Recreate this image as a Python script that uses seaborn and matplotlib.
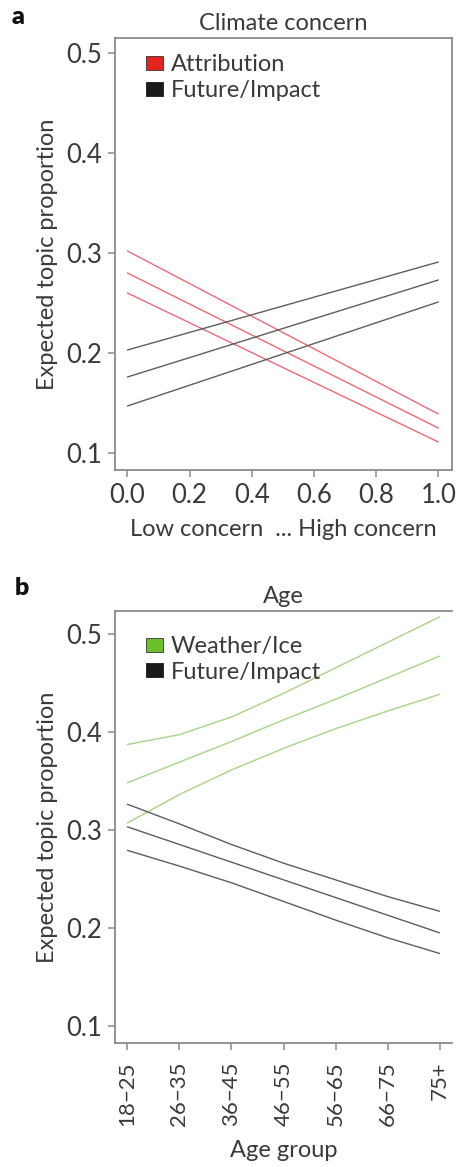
import numpy as np
import pandas as pd
import matplotlib
matplotlib.use("Agg")
import matplotlib.pyplot as plt
import matplotlib.patches as mpatches
import seaborn as sns

# ---------------- data ----------------
# Panel a: climate concern (0..1)
concern_x = [0.0, 1.0]
attr_upper = [0.302, 0.139]
attr_mid = [0.280, 0.125]
attr_lower = [0.260, 0.111]
fut_a_upper = [0.203, 0.291]
fut_a_mid = [0.176, 0.273]
fut_a_lower = [0.147, 0.251]

# Panel b: age group
age_groups = ["18\u221225", "26\u221235", "36\u221245", "46\u221255", "56\u221265", "66\u221275", "75+"]
weather_upper = [0.387, 0.397, 0.415, 0.439, 0.465, 0.491, 0.517]
weather_mid = [0.348, 0.369, 0.390, 0.412, 0.433, 0.455, 0.477]
weather_lower = [0.307, 0.336, 0.361, 0.383, 0.403, 0.421, 0.438]
fut_b_upper = [0.326, 0.306, 0.285, 0.266, 0.249, 0.232, 0.217]
fut_b_mid = [0.303, 0.285, 0.267, 0.249, 0.231, 0.213, 0.195]
fut_b_lower = [0.279, 0.263, 0.246, 0.227, 0.208, 0.190, 0.174]

yticks = [0.1, 0.2, 0.3, 0.4, 0.5]

RED_LINE = "#ec6a76"
RED_PATCH = "#e2231f"
GREEN_LINE = "#a6d488"
GREEN_PATCH = "#6cc02c"
GRAY_LINE = "#5e5e5e"
SPINE = "#8a8a8a"
TEXT = "#3a3a3a"

sns.set_theme(style="white")
plt.rcParams["font.family"] = ["Lato", "DejaVu Sans"]


def long_frame(x, series):
    rows = []
    for topic, bound, vals in series:
        for xi, v in zip(x, vals):
            rows.append({"x": xi, "value": v, "topic": topic, "bound": bound})
    return pd.DataFrame(rows)


df_a = long_frame(concern_x, [
    ("Attribution", "upper", attr_upper),
    ("Attribution", "mid", attr_mid),
    ("Attribution", "lower", attr_lower),
    ("Future/Impact", "upper", fut_a_upper),
    ("Future/Impact", "mid", fut_a_mid),
    ("Future/Impact", "lower", fut_a_lower),
])
age_pos = list(range(len(age_groups)))
df_b = long_frame(age_pos, [
    ("Weather/Ice", "upper", weather_upper),
    ("Weather/Ice", "mid", weather_mid),
    ("Weather/Ice", "lower", weather_lower),
    ("Future/Impact", "upper", fut_b_upper),
    ("Future/Impact", "mid", fut_b_mid),
    ("Future/Impact", "lower", fut_b_lower),
])

fig = plt.figure(figsize=(4.57, 11.67), dpi=100)
ax_a = fig.add_axes([115 / 457, 1 - 470 / 1167, 337 / 457, 432 / 1167])
ax_b = fig.add_axes([115 / 457, 1 - 1043 / 1167, 337 / 457, 432 / 1167])

sns.lineplot(data=df_a, x="x", y="value", hue="topic", units="bound", estimator=None,
             palette={"Attribution": RED_LINE, "Future/Impact": GRAY_LINE},
             linewidth=1.0, legend=False, ax=ax_a)
sns.lineplot(data=df_b, x="x", y="value", hue="topic", units="bound", estimator=None,
             palette={"Weather/Ice": GREEN_LINE, "Future/Impact": GRAY_LINE},
             linewidth=1.0, legend=False, ax=ax_b)

FS = 17
TFS = 18.5

def style(ax):
    for s in ax.spines.values():
        s.set_color(SPINE)
        s.set_linewidth(1.3)
    ax.tick_params(axis="both", which="both", direction="out", length=5, width=1.1,
                   color=SPINE, labelcolor=TEXT, labelsize=TFS, left=True, bottom=True, pad=4)
    ax.set_yticks(yticks)
    ax.set_yticklabels([f"{t:.1f}" for t in yticks])
    ax.set_ylabel("Expected topic proportion", fontsize=FS, color=TEXT, labelpad=6)
    ax.grid(False)

# Panel a
style(ax_a)
ax_a.set_xlim(-0.04, 1.044)
ax_a.set_ylim(0.083, 0.515)
ax_a.set_xticks([0.0, 0.2, 0.4, 0.6, 0.8, 1.0])
ax_a.set_xticklabels(["0.0", "0.2", "0.4", "0.6", "0.8", "1.0"])
ax_a.set_xlabel("Low concern  ... High concern", fontsize=FS, color=TEXT, labelpad=8)
ax_a.set_title("Climate concern", fontsize=FS, color=TEXT, pad=6)
h_a = [mpatches.Patch(facecolor=RED_PATCH, edgecolor="#333333", linewidth=0.6, label="Attribution"),
       mpatches.Patch(facecolor="#1a1a1a", edgecolor="#1a1a1a", linewidth=0.6, label="Future/Impact")]
ax_a.legend(handles=h_a, loc="upper left", bbox_to_anchor=(0.05, 0.995), frameon=False,
            fontsize=FS, handlelength=0.7, handleheight=0.55, handletextpad=0.35,
            labelspacing=0.2, borderaxespad=0.2, labelcolor=TEXT)

# Panel b
style(ax_b)
ax_b.tick_params(axis="x", labelsize=16, pad=8)
ax_b.spines["right"].set_visible(False)
ax_b.set_xlim(-0.24, 6.24)
ax_b.set_ylim(0.0827, 0.523)
ax_b.set_xticks(age_pos)
ax_b.set_xticklabels(age_groups, rotation=90)
ax_b.set_xlabel("Age group", fontsize=FS, color=TEXT, labelpad=10)
ax_b.set_title("Age", fontsize=FS, color=TEXT, pad=6)
h_b = [mpatches.Patch(facecolor=GREEN_PATCH, edgecolor="#333333", linewidth=0.6, label="Weather/Ice"),
       mpatches.Patch(facecolor="#1a1a1a", edgecolor="#1a1a1a", linewidth=0.6, label="Future/Impact")]
ax_b.legend(handles=h_b, loc="upper left", bbox_to_anchor=(0.05, 0.975), frameon=False,
            fontsize=FS, handlelength=0.7, handleheight=0.55, handletextpad=0.35,
            labelspacing=0.2, borderaxespad=0.2, labelcolor=TEXT)

# panel letters
fig.text(12 / 457, 1 - 17 / 1167, "a", fontsize=18, fontweight="heavy", color="#111111",
         ha="left", va="center")
fig.text(15 / 457, 1 - 588 / 1167, "b", fontsize=18, fontweight="heavy", color="#111111",
         ha="left", va="center")

fig.savefig("out.png", dpi=100, facecolor="white")
